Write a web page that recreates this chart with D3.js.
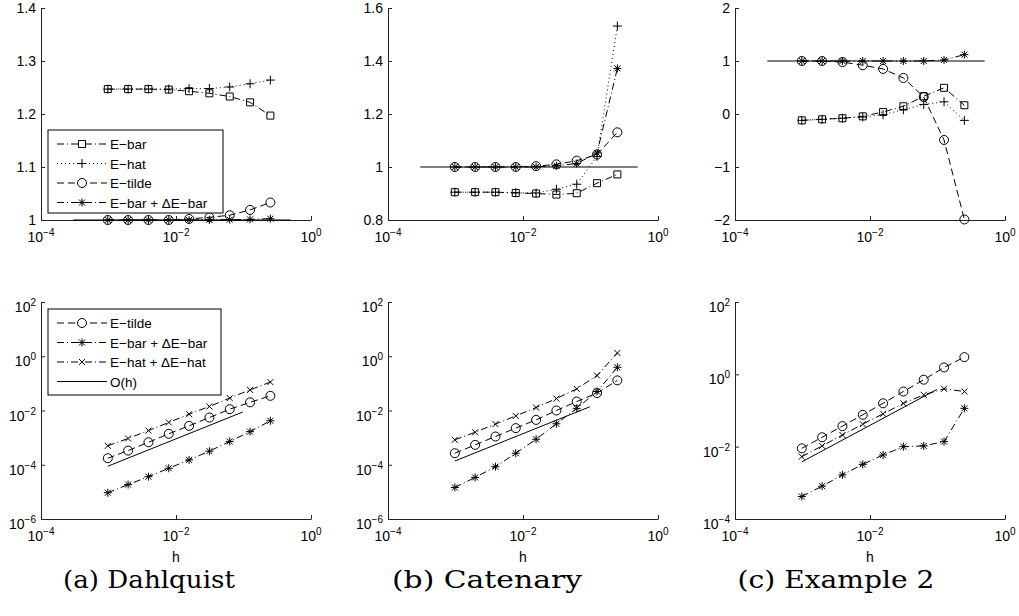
<!DOCTYPE html>
<html><head><meta charset="utf-8">
<script src="https://cdn.jsdelivr.net/npm/d3@7"></script>
<style>
html,body{margin:0;padding:0;background:#fff;}
svg{display:block;}
.tick-lbl{font-family:"Liberation Sans",Arial,sans-serif;font-size:14px;fill:#000;}
.leg{font-family:"Liberation Sans",Arial,sans-serif;font-size:13.5px;fill:#000;}
.cap{font-family:"DejaVu Serif","Liberation Serif",serif;font-size:24px;fill:#000;}
</style></head>
<body>
<svg id="c" width="1019" height="616"></svg>
<script>
// ---------- data ----------
const h = [0.0009765625, 0.001953125, 0.00390625, 0.0078125, 0.015625, 0.03125, 0.0625, 0.125, 0.25];
const refH = [0.0003, 0.5];
const refV = [1, 1];
const ohH = [0.0009765625, 0.09765625];

// top row (ratios)
const dahlEbar   = [1.247, 1.247, 1.247, 1.246, 1.243, 1.239, 1.233, 1.222, 1.197];
const dahlEhat   = [1.247, 1.247, 1.247, 1.247, 1.248, 1.248, 1.251, 1.257, 1.264];
const dahlEtilde = [1.000, 1.000, 1.000, 1.000, 1.002, 1.005, 1.009, 1.019, 1.033];
const dahlEbarD  = [1.000, 1.000, 1.000, 1.000, 1.000, 1.0003, 1.0006, 1.0012, 1.0025];

const catEbar   = [0.905, 0.905, 0.905, 0.902, 0.900, 0.896, 0.901, 0.939, 0.972];
const catEhat   = [0.905, 0.905, 0.905, 0.903, 0.902, 0.916, 0.935, 1.040, 1.532];
const catEtilde = [1.000, 1.000, 1.000, 1.000, 1.003, 1.010, 1.024, 1.047, 1.131];
const catEbarD  = [1.000, 1.000, 1.000, 1.000, 1.000, 1.005, 1.013, 1.053, 1.372];

const ex2Ebar   = [-0.12, -0.10, -0.08, -0.044, 0.038, 0.146, 0.335, 0.494, 0.165];
const ex2Ehat   = [-0.12, -0.10, -0.08, -0.057, -0.013, 0.08, 0.18, 0.23, -0.12];
const ex2Etilde = [1.00, 1.00, 0.98, 0.92, 0.85, 0.68, 0.32, -0.49, -1.99];
const ex2EbarD  = [1.00, 1.00, 1.00, 1.00, 1.00, 1.00, 1.00, 1.02, 1.12];

// bottom row (errors)
const dahlErrTilde = [1.74e-4, 3.33e-4, 6.76e-4, 1.38e-3, 2.72e-3, 5.50e-3, 1.12e-2, 2.0e-2, 3.47e-2];
const dahlErrBarD  = [9.3e-6, 1.86e-5, 3.63e-5, 7.41e-5, 1.51e-4, 3.16e-4, 7.24e-4, 1.66e-3, 4.17e-3];
const dahlErrHatD  = [5.0e-4, 9.3e-4, 1.82e-3, 3.63e-3, 7.33e-3, 1.41e-2, 2.88e-2, 5.75e-2, 0.112];
const dahlOh       = [8.8e-5, 8.8e-3];

const catErrTilde = [2.66e-4, 5.4e-4, 1.1e-3, 2.24e-3, 4.5e-3, 1.0e-2, 2.14e-2, 4.4e-2, 0.129];
const catErrBarD  = [1.45e-5, 3.4e-5, 8.5e-5, 2.66e-4, 8.7e-4, 3.24e-3, 1.2e-2, 5.0e-2, 0.39];
const catErrHatD  = [8.3e-4, 1.58e-3, 3.16e-3, 6.3e-3, 1.29e-2, 2.75e-2, 6.3e-2, 0.195, 1.32];
const catOh       = [1.37e-4, 1.37e-2];

const ex2ErrTilde = [9.0e-3, 1.82e-2, 3.7e-2, 7.6e-2, 0.158, 0.335, 0.71, 1.55, 2.99];
const ex2ErrBarD  = [4.2e-4, 8.1e-4, 1.66e-3, 3.24e-3, 5.9e-3, 1.0e-2, 1.05e-2, 1.38e-2, 0.115];
const ex2ErrHatD  = [5.3e-3, 1.05e-2, 2.1e-2, 4.2e-2, 8.1e-2, 0.158, 0.271, 0.398, 0.335];
const ex2Oh       = [3.8e-3, 0.38];

// ticks / labels
const xTickExp = [-4, -2, 0];
const topYTicks = [[1, 1.1, 1.2, 1.3, 1.4], [0.8, 1, 1.2, 1.4, 1.6], [-2, -1, 0, 1, 2]];
const topYDomains = [[1, 1.4], [0.8, 1.6], [-2, 2]];
const botYExp = [[-6, -4, -2, 0, 2], [-6, -4, -2, 0, 2], [-4, -2, 0, 2]];
const captions = ["(a) Dahlquist", "(b) Catenary", "(c) Example 2"];
const topLegend = ["E\u2212bar", "E\u2212hat", "E\u2212tilde", "E\u2212bar + \u0394E\u2212bar"];
const botLegend = ["E\u2212tilde", "E\u2212bar + \u0394E\u2212bar", "E\u2212hat + \u0394E\u2212hat", "O(h)"];

// ---------- styles ----------
const DASH = {solid: null, dashed: "7,4", dotted: "1,3", dashdot: "7,3,1,3"};
const MARK = {
  square: "M-3.5,-3.5h7v7h-7Z",
  plus: "M-4.5,0H4.5M0,-4.5V4.5",
  circle: "M4.5,0A4.5,4.5 0 1 1 -4.5,0A4.5,4.5 0 1 1 4.5,0Z",
  star: "M-4,0H4M0,-4V4M-3,-3L3,3M-3,3L3,-3",
  cross: "M-3,-3L3,3M-3,3L3,-3"
};

const svg = d3.select("#c");
const lefts = [41, 388, 735];
const width = 270;
const rows = [{top: 8, bottom: 220}, {top: 302, bottom: 519}];
const capX = [149, 487, 836];
const capW = [172, 190, 197];

function supLabel(sel, exp) {
  sel.append("tspan").text("10");
  sel.append("tspan").attr("dy", -6).attr("font-size", "10px").text(exp < 0 ? "\u2212" + (-exp) : String(exp));
}

function drawPanel(col, row, yScaleType, yDomain, yTicks, series, legendItems, xlabel) {
  const x0 = lefts[col], r = rows[row];
  const g = svg.append("g");
  const x = d3.scaleLog().domain([1e-4, 1]).range([x0, x0 + width]);
  const y = (yScaleType === "log" ? d3.scaleLog() : d3.scaleLinear()).domain(yDomain).range([r.bottom, r.top]);

  const xTicks = xTickExp.map(e => Math.pow(10, e));
  const xa = g.append("g").attr("transform", `translate(0,${r.bottom})`)
    .call(d3.axisBottom(x).tickValues(xTicks).tickSizeInner(-4).tickSizeOuter(0).tickFormat(""));
  const ya = g.append("g").attr("transform", `translate(${x0},0)`)
    .call(d3.axisLeft(y).tickValues(yTicks).tickSizeInner(-4).tickSizeOuter(0).tickFormat(""));
  [xa, ya].forEach(a => { a.selectAll("path,line").attr("stroke", "#222").attr("stroke-width", 1); });

  xTicks.forEach((v, i) => {
    const t = g.append("text").attr("class", "tick-lbl").attr("x", x(v)).attr("y", r.bottom + 22).attr("text-anchor", "middle");
    supLabel(t, xTickExp[i]);
  });
  yTicks.forEach(v => {
    const t = g.append("text").attr("class", "tick-lbl").attr("x", x0 - 5).attr("text-anchor", "end");
    if (yScaleType === "log") {
      t.attr("y", y(v) + 10);
      supLabel(t, Math.round(Math.log10(v)));
    } else {
      t.attr("y", y(v) + 5).text(String(v).replace("-", "\u2212"));
    }
  });
  if (xlabel) {
    g.append("text").attr("class", "tick-lbl").attr("x", x(0.01)).attr("y", r.bottom + 43).attr("text-anchor", "middle").text(xlabel);
  }

  const line = d3.line().x(d => x(d[0])).y(d => y(d[1]));
  series.forEach(s => {
    const pts = s.x.map((v, i) => [v, s.y[i]]);
    g.append("path").attr("d", line(pts)).attr("fill", "none").attr("stroke", "#000")
      .attr("stroke-width", s.w || 1).attr("stroke-dasharray", DASH[s.dash]);
    if (s.marker) {
      g.selectAll(null).data(pts).enter().append("path")
        .attr("d", MARK[s.marker]).attr("transform", d => `translate(${x(d[0])},${y(d[1])})`)
        .attr("fill", "none").attr("stroke", "#000").attr("stroke-width", 1);
    }
  });

  if (legendItems) {
    const L = legendItems;
    g.append("rect").attr("x", L.x).attr("y", L.y).attr("width", L.w).attr("height", L.h)
      .attr("fill", "#fff").attr("stroke", "#000").attr("stroke-width", 1);
    L.items.forEach((it, i) => {
      const yy = L.y + 14 + i * 19.5;
      g.append("line").attr("x1", L.x + 9).attr("x2", L.x + 59).attr("y1", yy).attr("y2", yy)
        .attr("stroke", "#000").attr("stroke-width", 1).attr("stroke-dasharray", DASH[it.dash]);
      if (it.marker) g.append("path").attr("d", MARK[it.marker]).attr("transform", `translate(${L.x + 34},${yy})`)
        .attr("fill", "#fff").attr("stroke", "#000").attr("stroke-width", 1);
      g.append("text").attr("class", "leg").attr("x", L.x + 62).attr("y", yy + 5).text(it.label);
    });
  }
}

const topData = [
  [dahlEbar, dahlEhat, dahlEtilde, dahlEbarD],
  [catEbar, catEhat, catEtilde, catEbarD],
  [ex2Ebar, ex2Ehat, ex2Etilde, ex2EbarD]
];
const botData = [
  [dahlErrTilde, dahlErrBarD, dahlErrHatD, dahlOh],
  [catErrTilde, catErrBarD, catErrHatD, catOh],
  [ex2ErrTilde, ex2ErrBarD, ex2ErrHatD, ex2Oh]
];

for (let c = 0; c < 3; c++) {
  const d = topData[c];
  const series = [
    {x: refH, y: refV, dash: "solid", w: 1.2},
    {x: h, y: d[0], dash: "dashdot", marker: "square"},
    {x: h, y: d[1], dash: "dotted", marker: "plus"},
    {x: h, y: d[2], dash: "dashed", marker: "circle"},
    {x: h, y: d[3], dash: "dashdot", marker: "star"}
  ];
  const leg = c === 0 ? {x: 48, y: 130, w: 175, h: 83, items: [
    {label: topLegend[0], dash: "dashdot", marker: "square"},
    {label: topLegend[1], dash: "dotted", marker: "plus"},
    {label: topLegend[2], dash: "dashed", marker: "circle"},
    {label: topLegend[3], dash: "dashdot", marker: "star"}]} : null;
  drawPanel(c, 0, "linear", topYDomains[c], topYTicks[c], series, leg, null);

  const b = botData[c];
  const bSeries = [
    {x: h, y: b[0], dash: "dashed", marker: "circle"},
    {x: h, y: b[1], dash: "dashdot", marker: "star"},
    {x: h, y: b[2], dash: "dashdot", marker: "cross"},
    {x: ohH, y: b[3], dash: "solid"}
  ];
  const exps = botYExp[c];
  const bLeg = c === 0 ? {x: 48, y: 309, w: 173, h: 86, items: [
    {label: botLegend[0], dash: "dashed", marker: "circle"},
    {label: botLegend[1], dash: "dashdot", marker: "star"},
    {label: botLegend[2], dash: "dashdot", marker: "cross"},
    {label: botLegend[3], dash: "solid"}]} : null;
  drawPanel(c, 1, "log", [Math.pow(10, exps[0]), Math.pow(10, exps[exps.length - 1])],
    exps.map(e => Math.pow(10, e)), bSeries, bLeg, "h");

  svg.append("text").attr("class", "cap").attr("x", capX[c]).attr("y", 588).attr("text-anchor", "middle")
    .attr("textLength", capW[c]).attr("lengthAdjust", "spacingAndGlyphs").text(captions[c]);
}
</script>
</body></html>
